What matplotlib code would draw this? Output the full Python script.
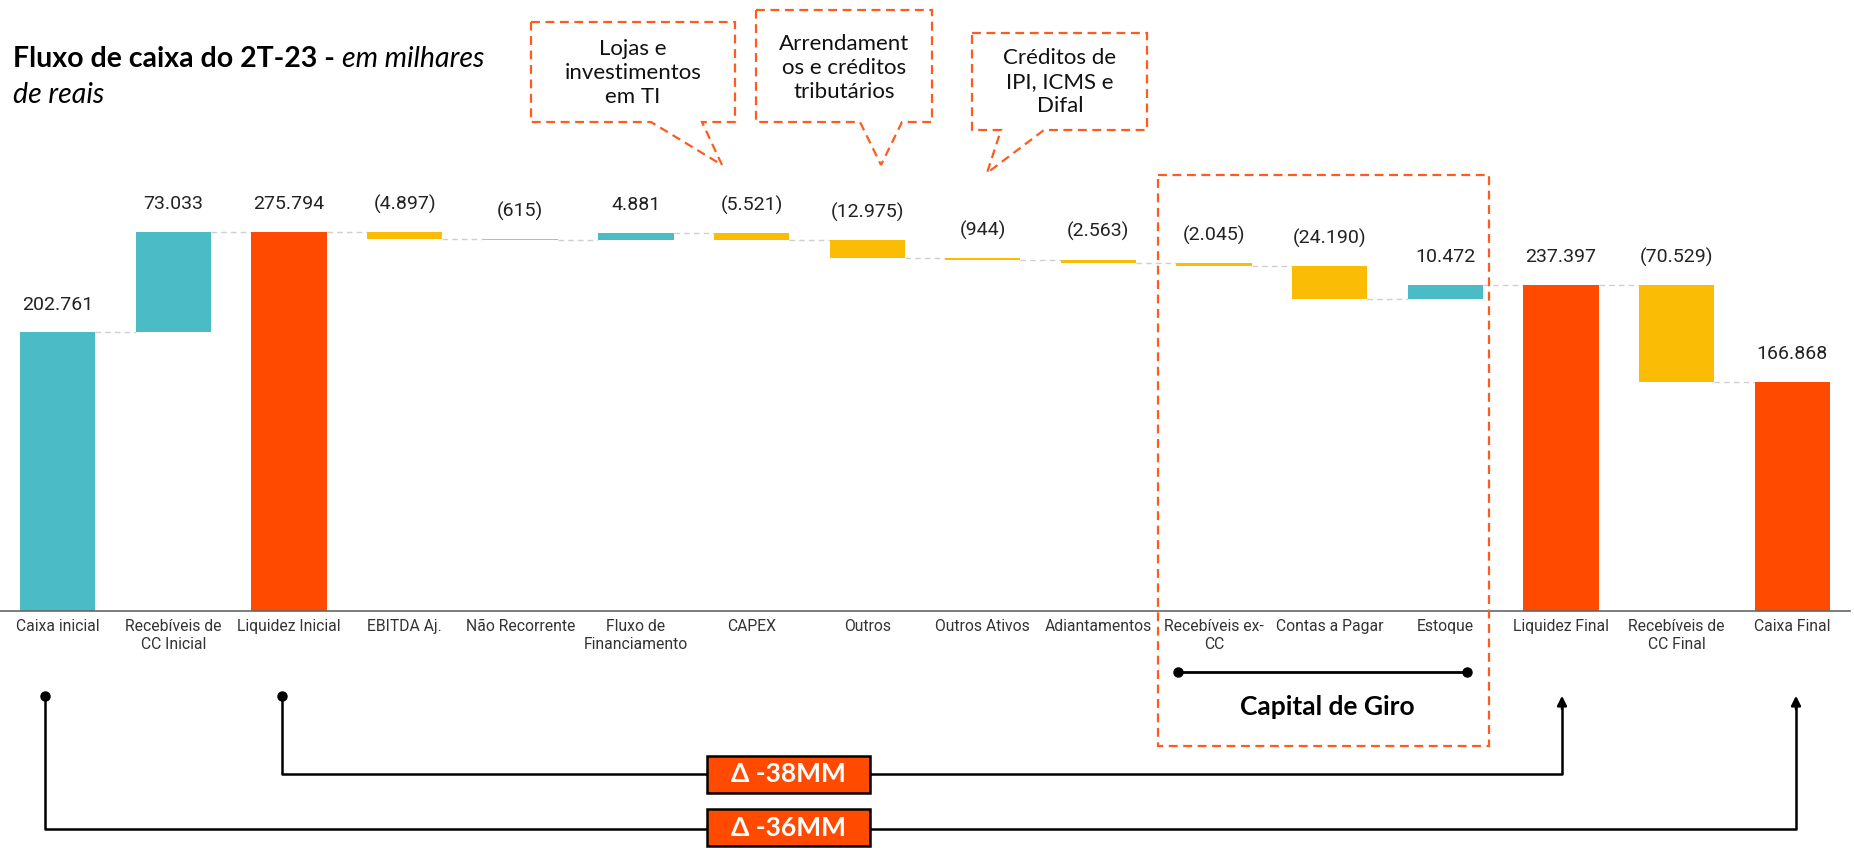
import matplotlib
matplotlib.use('Agg')
import matplotlib.pyplot as plt
from matplotlib.patches import Polygon, Rectangle
import numpy as np

# dados (milhares de reais)
categorias = ['Caixa inicial', 'Recebíveis de\nCC Inicial', 'Liquidez Inicial', 'EBITDA Aj.',
              'Não Recorrente', 'Fluxo de\nFinanciamento', 'CAPEX', 'Outros', 'Outros Ativos',
              'Adiantamentos', 'Recebíveis ex-\nCC', 'Contas a Pagar', 'Estoque',
              'Liquidez Final', 'Recebíveis de\nCC Final', 'Caixa Final']
valores = [202.761, 73.033, 275.794, -4.897, -0.615, 4.881, -5.521, -12.975, -0.944,
           -2.563, -2.045, -24.190, 10.472, 237.397, -70.529, 166.868]
tipos = ['base', 'delta', 'total', 'delta', 'delta', 'delta', 'delta', 'delta', 'delta',
         'delta', 'delta', 'delta', 'delta', 'total', 'delta', 'total']
rotulos = ['202.761', '73.033', '275.794', '(4.897)', '(615)', '4.881', '(5.521)', '(12.975)',
           '(944)', '(2.563)', '(2.045)', '(24.190)', '10.472', '237.397', '(70.529)', '166.868']

notas = ['Lojas e\ninvestimentos\nem TI', 'Arrendament\nos e créditos\ntributários',
         'Créditos de\nIPI, ICMS e\nDifal']
deltas = ['Δ -38MM', 'Δ -36MM']

azul = '#4BBCC6'
vermelho = '#FF4A00'
amarelo = '#FABC05'
tracejado = '#FF5A1F'

W, H = 1854, 848
fig = plt.figure(figsize=(W / 100, H / 100), dpi=100)

ax = fig.add_axes([0.0, (H - 611) / H, 1850 / W, (611 - 143.8) / H])

base = []
altura = []
cores = []
nivel = []
acum = 0
for v, t in zip(valores, tipos):
    if t != 'delta':
        base.append(0)
        altura.append(v)
        acum = v
        cores.append(azul if t == 'base' else vermelho)
    else:
        base.append(acum if v > 0 else acum + v)
        altura.append(abs(v))
        acum = acum + v
        cores.append(azul if v > 0 else amarelo)
    nivel.append(acum)

x = np.arange(len(valores))
larg = 0.65
ax.bar(x, altura, bottom=base, width=larg, color=cores, zorder=2)

# linhas de ligacao entre as barras
for i in range(len(x) - 1):
    ax.plot([x[i] + larg / 2, x[i + 1] - larg / 2], [nivel[i], nivel[i]],
            color='#cfcfcf', lw=1, ls=(0, (4, 3)), zorder=1)

for i in range(len(x)):
    topo = base[i] + altura[i]
    ax.annotate(rotulos[i], (x[i], topo), xytext=(0, 20), textcoords='offset points',
                ha='center', va='center', fontsize=14, family='Roboto', color='#222222')

ax.set_xlim(-0.5, 15.5)
ax.set_ylim(0, 340)
ax.set_xticks(x)
ax.set_xticklabels(categorias, fontsize=11.3, family='Roboto', color='#333333', linespacing=1.2)
ax.tick_params(axis='x', length=0, pad=6)
ax.set_yticks([])
for s in ['top', 'right', 'left']:
    ax.spines[s].set_visible(False)
ax.spines['bottom'].set_color('#666666')
ax.spines['bottom'].set_linewidth(1.2)

# camada por cima em pixels para anotacoes
ov = fig.add_axes([0, 0, 1, 1])
ov.set_xlim(0, W)
ov.set_ylim(H, 0)
ov.axis('off')
ov.patch.set_alpha(0)

fig.canvas.draw()
r = fig.canvas.get_renderer()
t1 = ov.text(13, 67, 'Fluxo de caixa do 2T-23 -', fontsize=20.5, fontweight='bold',
             family='Lato', va='baseline', ha='left', color='black')
bb = t1.get_window_extent(renderer=r)
ov.text(bb.x1 + 7, 67, 'em milhares', fontsize=20.5, style='italic', family='Lato',
        va='baseline', ha='left', color='black')
ov.text(13, 103, 'de reais', fontsize=20.5, style='italic', family='Lato',
        va='baseline', ha='left', color='black')

# baloes de nota
baloes = [
    [(531, 22), (735, 22), (735, 122), (702, 122), (722, 165), (651, 122), (531, 122)],
    [(756, 10), (932, 10), (932, 122), (902, 122), (881, 165), (860, 122), (756, 122)],
    [(972, 33), (1147, 33), (1147, 130), (1044, 130), (987, 173), (1001, 130), (972, 130)],
]
centros = [(633, 73), (844, 68), (1060, 82)]
for pts, c, txt in zip(baloes, centros, notas):
    ov.add_patch(Polygon(pts, closed=True, fill=False, ec=tracejado, lw=1.6, ls=(0, (4, 2.5))))
    ov.text(c[0], c[1], txt, ha='center', va='center', fontsize=16, family='Lato',
            linespacing=1.25, color='#111111')

# capital de giro
ov.add_patch(Rectangle((1158, 175), 331, 571, fill=False, ec=tracejado, lw=1.6, ls=(0, (4, 2.5))))
ov.plot([1178, 1467], [672, 672], color='black', lw=2, marker='o', ms=6.5)
ov.text(1327, 707, 'Capital de Giro', ha='center', va='center', fontsize=19,
        fontweight='bold', family='Lato')

# chaves de variacao
chaves = [((282, 1562), 774), ((45, 1796), 829)]
for (xa, xb), yl in chaves:
    ov.plot([xa, xa, xb, xb], [696, yl, yl, 705], color='black', lw=1.8)
    ov.plot([xa], [696], marker='o', ms=6.5, color='black')
    ov.annotate('', xy=(xb, 693), xytext=(xb, 712),
                arrowprops=dict(arrowstyle='-|>', color='black', lw=1.8, mutation_scale=14))

for txt, yc in zip(deltas, [774.5, 827.5]):
    ov.add_patch(Rectangle((707, yc - 18.5), 163, 37, fc=vermelho, ec='black', lw=1.8, zorder=3))
    ov.text(788.5, yc, txt, ha='center', va='center', fontsize=19, fontweight='bold',
            family='Lato', color='white', zorder=4)

fig.savefig('out.png', dpi=100)
